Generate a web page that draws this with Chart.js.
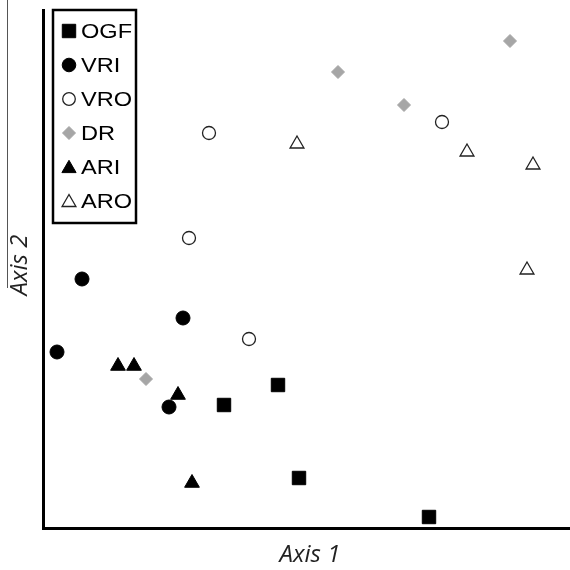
<!DOCTYPE html>
<html>
<head>
<meta charset="utf-8">
<script src="https://cdn.jsdelivr.net/npm/chart.js@4/dist/chart.umd.min.js"></script>
<style>
  html, body { margin: 0; padding: 0; background: #fff; overflow: hidden; }
  #wrap { width: 570px; height: 570px; position: relative; overflow: hidden; }
  canvas { display: block; }
</style>
</head>
<body>
<div id="wrap"><canvas id="c" width="570" height="570" style="width:570px;height:570px"></canvas></div>
<script>
// Series values (Axis 1, Axis 2) in arbitrary ordination units
const groups = ["OGF", "VRI", "VRO", "DR", "ARI", "ARO"];
const ogf = [[181, 123], [235, 143], [256, 50], [386, 11]];
const vri = [[39, 249], [14, 176], [140, 210], [126, 121]];
const vro = [[166, 395], [146, 290], [206, 189], [399, 406]];
const dr  = [[103, 149], [295, 456], [361, 423], [467, 487]];
const ari = [[75, 162], [91, 162], [135, 133], [149, 45]];
const aro = [[254, 384], [424, 376], [490, 363], [484, 258]];
const axisTitles = ["Axis 1", "Axis 2"];
const xRange = [0, 527];
const yRange = [0, 518];

const toPts = arr => arr.map(p => ({ x: p[0], y: p[1] }));

const styles = [
  { pointStyle: 'rect', radius: 9.5, bg: '#000', border: '#000', bw: 1, lr: 9.5 },
  { pointStyle: 'circle', radius: 7, bg: '#000', border: '#000', bw: 1, lr: 6.8 },
  { pointStyle: 'circle', radius: 6.5, bg: '#fff', border: '#222', bw: 1.3, lr: 6.3 },
  { pointStyle: 'rectRot', radius: 6.5, bg: '#a6a6a6', border: '#a6a6a6', bw: 1, lr: 6.5 },
  { pointStyle: 'triangle', radius: 8.5, bg: '#000', border: '#000', bw: 1, lr: 8.2 },
  { pointStyle: 'triangle', radius: 8, bg: '#fff', border: '#222', bw: 1.3, lr: 8 }
];
const seriesData = [ogf, vri, vro, dr, ari, aro];

const datasets = groups.map((g, i) => ({
  label: g,
  data: toPts(seriesData[i]),
  pointStyle: styles[i].pointStyle,
  pointRadius: styles[i].radius,
  pointHoverRadius: styles[i].radius,
  pointBackgroundColor: styles[i].bg,
  pointBorderColor: styles[i].border,
  pointBorderWidth: styles[i].bw,
  clip: false
}));

function noPad(s) {
  s.paddingLeft = 0; s.paddingRight = 0; s.paddingTop = 0; s.paddingBottom = 0;
}

const decor = {
  id: 'decor',
  afterDraw(chart) {
    const ctx = chart.ctx;
    const a = chart.chartArea;
    ctx.save();
    // thin stray line at far left of the reference
    ctx.strokeStyle = '#555';
    ctx.lineWidth = 1;
    ctx.beginPath();
    ctx.moveTo(7.5, 0);
    ctx.lineTo(7.5, 288);
    ctx.stroke();

    // axis titles
    ctx.fillStyle = '#222';
    ctx.font = 'italic 24px "Open Sans"';
    ctx.textAlign = 'center';
    ctx.textBaseline = 'middle';
    ctx.fillText(axisTitles[0], 310, 555);
    ctx.save();
    ctx.translate(20, 265);
    ctx.rotate(-Math.PI / 2);
    ctx.fillText(axisTitles[1], 0, 0);
    ctx.restore();

    // legend box
    const bx = a.left + 10, by = a.top, bw = 83, bh = 213;
    ctx.fillStyle = '#fff';
    ctx.fillRect(bx, by, bw, bh);
    ctx.strokeStyle = '#000';
    ctx.lineWidth = 2.5;
    ctx.strokeRect(bx, by, bw, bh);
    ctx.font = '20px "Liberation Sans"';
    ctx.textAlign = 'left';
    ctx.textBaseline = 'middle';
    chart.data.datasets.forEach((ds, i) => {
      const y = by + 21 + i * 34;
      const s = styles[i];
      ctx.fillStyle = s.bg;
      ctx.strokeStyle = s.border;
      ctx.lineWidth = s.bw;
      Chart.helpers.drawPoint(ctx, {
        pointStyle: s.pointStyle, radius: s.lr, borderWidth: s.bw, rotation: 0
      }, bx + 16, y + (s.pointStyle === 'triangle' ? 1.5 : 0));
      ctx.fillStyle = '#000';
      ctx.save();
      ctx.translate(bx + 28, y + 1);
      ctx.scale(1.18, 1);
      ctx.fillText(ds.label, 0, 0);
      ctx.restore();
    });
    ctx.restore();
  }
};

new Chart(document.getElementById('c'), {
  type: 'scatter',
  data: { datasets },
  options: {
    responsive: false,
    animation: false,
    devicePixelRatio: 1,
    layout: { autoPadding: false, padding: { left: 43, top: 10, right: 0, bottom: 42 } },
    plugins: { legend: { display: false }, tooltip: { enabled: false }, title: { display: false } },
    scales: {
      x: {
        type: 'linear', min: xRange[0], max: xRange[1],
        grid: { display: false, drawTicks: false },
        ticks: { display: false },
        border: { display: true, color: '#000', width: 3 },
        afterFit(s) { s.height = 0; noPad(s); }
      },
      y: {
        type: 'linear', min: yRange[0], max: yRange[1],
        grid: { display: false, drawTicks: false },
        ticks: { display: false },
        border: { display: true, color: '#000', width: 3 },
        afterFit(s) { s.width = 0; noPad(s); }
      }
    }
  },
  plugins: [decor]
});
</script>
</body>
</html>
